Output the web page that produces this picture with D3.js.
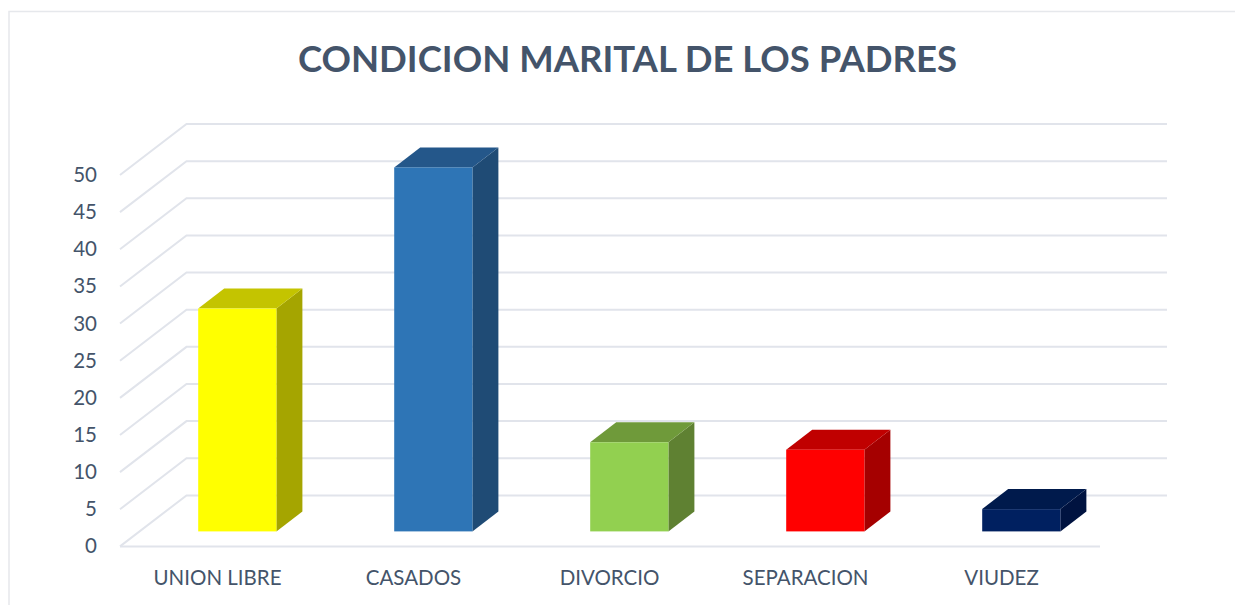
<!DOCTYPE html>
<html><head><meta charset="utf-8">
<script src="https://cdnjs.cloudflare.com/ajax/libs/d3/7.8.5/d3.min.js"></script>
<style>html,body{margin:0;padding:0;background:#fff;overflow:hidden}svg{display:block}
text{font-family:Lato,"Open Sans",sans-serif}</style></head><body>
<svg id="c" width="1235" height="605"></svg>
<script>
const title = "CONDICION MARITAL DE LOS PADRES";
const categories = ["UNION LIBRE","CASADOS","DIVORCIO","SEPARACION","VIUDEZ"];
const values = [30,49,12,11,3];
const yTicks = [0,5,10,15,20,25,30,35,40,45,50];
const frontColors = ["#FFFF00","#2E75B6","#92D050","#FF0000","#002060"];
const topColors = ["#C4C400","#24578A","#6F9A3A","#C00000","#001A4C"];
const sideColors = ["#A5A500","#1F4B75","#5F8132","#A50000","#001340"];

const svg = d3.select("#c");
const ink = "#44546A", gridC = "#E1E4EB";
const wallDx = 66.5, wallDy = -51;
const barDepthOffX = 19.3, barDepthOffY = -15, bdx = 26, bdy = -20, barW = 78.2;
const x = d3.scaleBand().domain(categories).range([120,1100]);
const y = d3.scaleLinear().domain([0,50]).range([546.4,175]);

// frame
svg.append("path").attr("d","M9 605V11.5H1235").attr("fill","none").attr("stroke","#E6E8EC").attr("stroke-width",1.5);

// title
svg.append("text").attr("x",627.5).attr("y",72).attr("text-anchor","middle")
  .attr("font-size",36.5).attr("font-weight",700).attr("fill",ink).text(title);

// gridlines on walls
const line = d3.line();
yTicks.forEach(t=>{
  const y0=y(t);
  svg.append("path").attr("fill","none").attr("stroke",gridC).attr("stroke-width",2)
    .attr("d",line([[120,y0],[120+wallDx,y0+wallDy],[1167,y0+wallDy]]));
});
svg.append("path").attr("fill","none").attr("stroke",gridC).attr("stroke-width",2)
  .attr("d",line([[120,y(0)],[1100,y(0)]]));

// axes
const yAxis = d3.axisLeft(y).tickValues(yTicks).tickSize(0).tickPadding(23);
const gy = svg.append("g").attr("transform","translate(120,0)").call(yAxis);
gy.select(".domain").remove();
gy.selectAll("text").attr("font-size",20.5).attr("font-weight",400).attr("fill",ink).style("font-family","Lato");

const xAxis = d3.axisBottom(x).tickSize(0).tickPadding(24.5);
const gx = svg.append("g").attr("transform","translate(-0.5,546)").call(xAxis);
gx.select(".domain").remove();
gx.selectAll("text").attr("font-size",20.5).attr("fill",ink).style("font-family","Lato");

// bars
categories.forEach((c,i)=>{
  const cx = x(c)+x.bandwidth()/2+barDepthOffX;
  const l = cx-barW/2, r = cx+barW/2, b = y(0)+barDepthOffY, t = y(values[i])+barDepthOffY;
  const g = svg.append("g");
  g.append("path").attr("fill",sideColors[i]).attr("d",line([[r,t],[r+bdx,t+bdy],[r+bdx,b+bdy],[r,b]])+"Z");
  g.append("path").attr("fill",topColors[i]).attr("d",line([[l,t],[l+bdx,t+bdy],[r+bdx,t+bdy],[r,t]])+"Z");
  g.append("rect").attr("x",l).attr("y",t).attr("width",barW).attr("height",b-t).attr("fill",frontColors[i]);
});
</script></body></html>
